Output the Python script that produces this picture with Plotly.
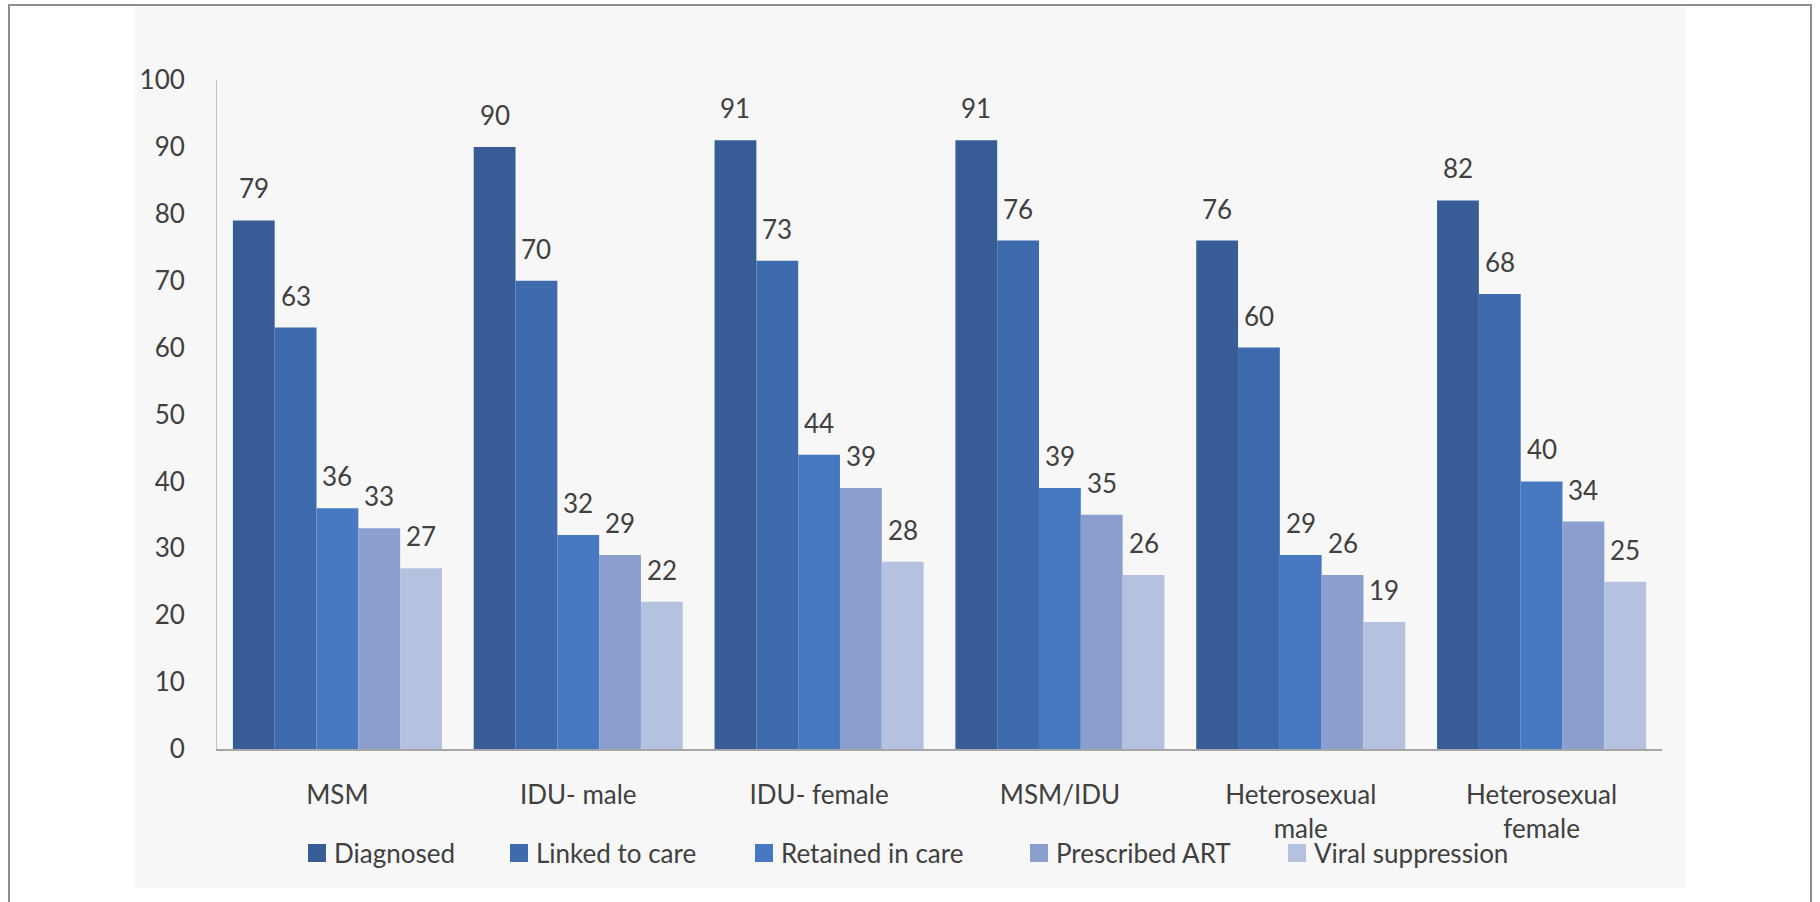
import plotly.graph_objects as go

# Care-continuum percentages by transmission group
categories = ["MSM", "IDU- male", "IDU- female", "MSM/IDU",
              "Heterosexual<br>male", "Heterosexual<br>female"]
stages = ["Diagnosed", "Linked to care", "Retained in care",
          "Prescribed ART", "Viral suppression"]
diagnosed = [79, 90, 91, 91, 76, 82]
linked_to_care = [63, 70, 73, 76, 60, 68]
retained_in_care = [36, 32, 44, 39, 29, 40]
prescribed_art = [33, 29, 39, 35, 26, 34]
viral_suppression = [27, 22, 28, 26, 19, 25]
y_ticks = [0, 10, 20, 30, 40, 50, 60, 70, 80, 90, 100]

series = [diagnosed, linked_to_care, retained_in_care, prescribed_art, viral_suppression]
colors = ["#385d96", "#3e6bad", "#4779c2", "#8b9fcf", "#b4c1df"]

W, H = 1820, 902
ML, MR, MT, MB = 217, 158, 80, 153
PW, PH = W - ML - MR, H - MT - MB
FONT = "Lato, 'Open Sans', sans-serif"
TXT = "#404040"
BARGAP = 0.132


def px_x(px):
    return (px - ML) / PW


def px_y(py):
    return (H - MB - py) / PH


fig = go.Figure()
for name, vals, col in zip(stages, series, colors):
    fig.add_trace(go.Bar(
        x=categories, y=vals, name=name,
        marker=dict(color=col, line=dict(width=0)),
        showlegend=False,
    ))

shapes = [
    # outer frame
    dict(type="rect", xref="paper", yref="paper", layer="below",
         x0=px_x(9), x1=px_x(1811), y0=px_y(930), y1=px_y(5),
         line=dict(color="#8f8f8f", width=2), fillcolor="white"),
    # light chart panel
    dict(type="rect", xref="paper", yref="paper", layer="below",
         x0=px_x(135), x1=px_x(1685), y0=px_y(888), y1=px_y(7),
         line=dict(width=0), fillcolor="#f7f7f7"),
]

annotations = []
# value labels above each bar (grouped-bar slot offsets on the category axis)
n = len(series)
slot = (1 - BARGAP) / n
for i, vals in enumerate(series):
    offset = (i - (n - 1) / 2) * slot
    for ci, v in enumerate(vals):
        annotations.append(dict(
            xref="x", yref="y", x=ci + offset, y=v,
            xanchor="center", yanchor="bottom", yshift=14, showarrow=False,
            text=str(v), font=dict(family=FONT, size=26, color=TXT)))

# legend drawn as swatches + labels along the bottom of the panel
legend_x = [308, 510, 755, 1030, 1288]
legend_y = 853
for name, col, lx in zip(stages, colors, legend_x):
    shapes.append(dict(type="rect", xref="paper", yref="paper",
                       x0=px_x(lx), x1=px_x(lx + 18),
                       y0=px_y(legend_y + 9), y1=px_y(legend_y - 9),
                       line=dict(width=0), fillcolor=col))
    annotations.append(dict(xref="paper", yref="paper",
                            x=px_x(lx + 24), y=px_y(legend_y),
                            xanchor="left", yanchor="middle", showarrow=False,
                            text=name, font=dict(family=FONT, size=26, color=TXT)))

fig.update_layout(
    width=W, height=H,
    margin=dict(l=ML, r=MR, t=MT, b=MB, pad=0),
    paper_bgcolor="white", plot_bgcolor="rgba(0,0,0,0)",
    barmode="group", bargap=BARGAP, bargroupgap=0,
    font=dict(family=FONT, size=26, color=TXT),
    shapes=shapes, annotations=annotations,
    showlegend=False,
)
fig.update_yaxes(
    range=[0, 100], tickvals=y_ticks, showgrid=False, zeroline=False,
    showline=True, linecolor="#c4c4c4", linewidth=1,
    ticks="", ticklabelstandoff=26,
    tickfont=dict(family=FONT, size=26, color=TXT),
)
fig.update_xaxes(
    showgrid=False, showline=True, linecolor="#a6a6a6", linewidth=2,
    ticks="", ticklabelstandoff=22,
    tickfont=dict(family=FONT, size=26, color=TXT),
)

fig.write_html("out.html")
